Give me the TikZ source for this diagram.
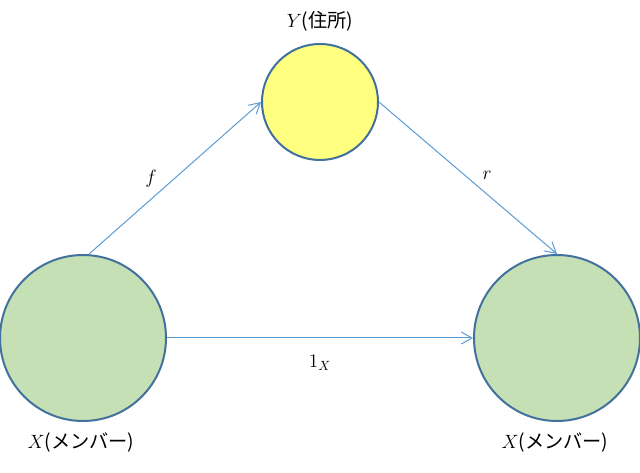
\documentclass[tikz,border=0pt]{standalone}
\usepackage{fontspec}
\newfontfamily\jpfont{Noto Sans CJK JP}
\usepackage{tikz}
\usetikzlibrary{arrows.meta}
\definecolor{ringC}{RGB}{65,113,156}
\definecolor{addrC}{RGB}{255,255,128}
\definecolor{membC}{RGB}{197,224,180}
\definecolor{mapC}{RGB}{91,155,213}
\tikzset{
  setS/.style  ={circle, draw=ringC, line width=1.5pt, inner sep=0pt},
  addr/.style  ={setS, fill=addrC, minimum size=87pt},
  memb/.style  ={setS, fill=membC, minimum size=124.5pt},
  mapS/.style  ={draw=mapC, line width=0.75pt, -{Straight Barb[length=8pt,width=9pt,line width=0.75pt]}},
  lbl/.style   ={font=\Large, inner sep=0pt},
}

\begin{document}
\begin{tikzpicture}[x=0.75pt, y=-0.75pt]
  \useasboundingbox (0,0) rectangle (640,473);
  \node[addr] (y)  at (320,102) {};
  \node[memb] (xl) at (83,338)  {};
  \node[memb] (xr) at (557,338) {};
  \node[lbl] (ylab)  at (320,21)  {$Y${\jpfont(住所)}};
  \node[lbl] (xllab) at (81,443)  {$X${\jpfont(メンバー)}};
  \node[lbl] (xrlab) at (555,443) {$X${\jpfont(メンバー)}};
  \draw[mapS] (xl.86) -- (y.west);
  \draw[mapS] (y.east) -- (xr.north);
  \draw[mapS] (xl.east) -- (xr.west);
  \node[lbl] (flab) at (151,179) {$f$};
  \node[lbl] (rlab) at (487,175) {$r$};
  \node[lbl] (idlab) at (320,363) {$1_X$};
\end{tikzpicture}
\end{document}
